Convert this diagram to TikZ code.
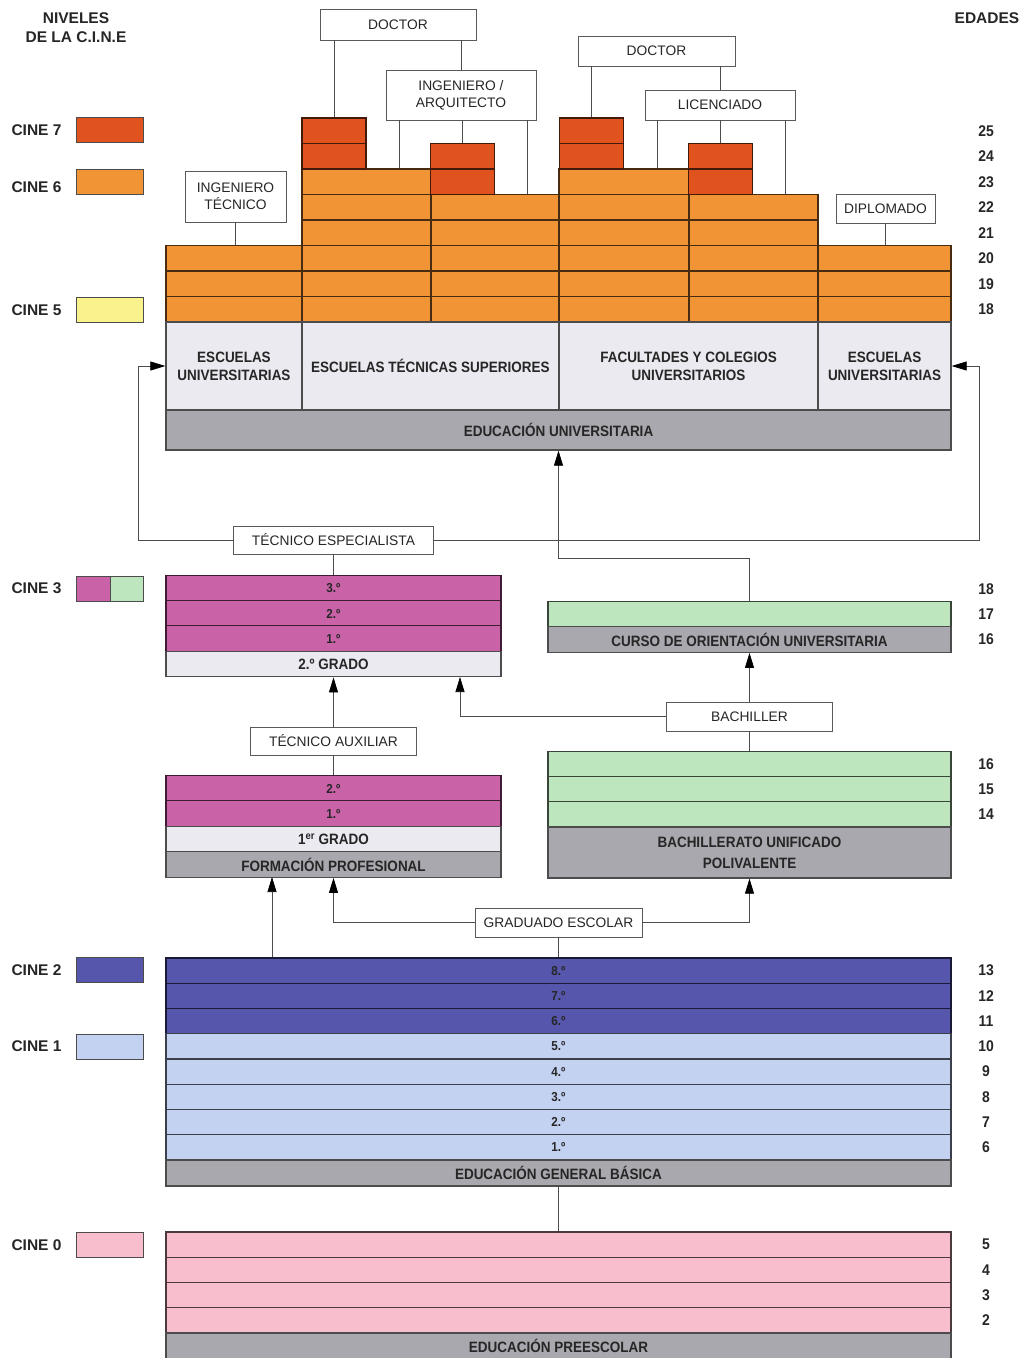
\documentclass[tikz,border=0pt]{standalone}
\usepackage{fontspec}
\setmainfont{Liberation Sans}
\newfontfamily\estrecha{Liberation Sans}[FakeStretch=0.9]
\usetikzlibrary{arrows.meta}

\definecolor{rojo}{RGB}{224,82,30}
\definecolor{naranja}{RGB}{240,148,54}
\definecolor{amarillo}{RGB}{250,242,140}
\definecolor{magenta}{RGB}{202,98,168}
\definecolor{verde}{RGB}{190,230,190}
\definecolor{azul}{RGB}{86,86,172}
\definecolor{celeste}{RGB}{196,210,242}
\definecolor{rosa}{RGB}{248,190,205}
\definecolor{gris}{RGB}{168,168,174}
\definecolor{claro}{RGB}{234,234,240}

\begin{document}
\begin{tikzpicture}[x=1pt, y=-1pt,
    caja/.style={draw=black!65, line width=0.7pt, fill=white, align=center, inner sep=0pt,
      text=black!85, font=\fontsize{13.8}{17}\selectfont},
    fila/.style={draw, line width=1.3pt, inner sep=0pt, minimum height=25.5pt, align=center,
      text=black!85, font=\estrecha\bfseries\fontsize{13}{15}\selectfont},
    banda/.style={fila, fill=gris, draw=black!70, font=\estrecha\bfseries\fontsize{15}{21}\selectfont},
    claroz/.style={fila, fill=claro, draw=black!70, font=\estrecha\bfseries\fontsize{15}{18}\selectfont},
    edad/.style={text=black!85, font=\estrecha\bfseries\fontsize{15.5}{17}\selectfont},
    cine/.style={anchor=west, text=black!85, font=\bfseries\fontsize{15.5}{19}\selectfont},
    muestra/.style={draw=black!70, line width=1pt, minimum height=25pt, inner sep=0pt},
    ln/.style={line width=0.7pt, draw=black!70},
    arr/.style={ln, -{Triangle[length=15pt,width=9pt,color=black]}}]

  \useasboundingbox (0,0) rectangle (1029,1358);

  % Legend
  \node[cine, anchor=center, align=center] (niveles) at (76,28) {NIVELES\\DE LA C.I.N.E};
  \node[cine, anchor=center] (edades) at (987,18) {EDADES};
  \node[cine] (l7) at (8,130) {CINE 7};
  \node[muestra, fill=rojo, minimum width=67pt] (m7) at (109.5,129.5) {};
  \node[cine] (l6) at (8,187) {CINE 6};
  \node[muestra, fill=naranja, minimum width=67pt] (m6) at (109.5,181.5) {};
  \node[cine] (l5) at (8,310) {CINE 5};
  \node[muestra, fill=amarillo, minimum width=67pt] (m5) at (109.5,309.5) {};
  \node[cine] (l3) at (8,588) {CINE 3};
  \node[muestra, fill=magenta, minimum width=34pt] (m3a) at (93,588.5) {};
  \node[muestra, fill=verde, minimum width=33pt] (m3b) at (126.5,588.5) {};
  \node[cine] (l2) at (8,970) {CINE 2};
  \node[muestra, fill=azul, minimum width=67pt] (m2) at (109.5,970) {};
  \node[cine] (l1) at (8,1046) {CINE 1};
  \node[muestra, fill=celeste, minimum width=67pt] (m1) at (109.5,1046.5) {};
  \node[cine] (l0) at (8,1245) {CINE 0};
  \node[muestra, fill=rosa, minimum width=67pt] (m0) at (109.5,1244.5) {};

  % Ages
  \foreach \a in {18,...,25}
    \node[edad] (eU\a) at (986,{309.25-(\a-18)*25.5}) {\a};
  \foreach \a/\y in {18/589.5, 17/614.5, 16/639.5, 16/764.5, 15/789.5, 14/814.5}
    \node[edad] (eB\y) at (986,\y) {\a};
  \foreach \a in {6,...,13}
    \node[edad] (eG\a) at (986,{970.6+(13-\a)*25.25}) {\a};
  \foreach \a in {2,...,5}
    \node[edad] (eP\a) at (986,{1244.6+(5-\a)*25.25}) {\a};

  % University: CINE 6 and CINE 7 cells
  \foreach \c/\cx/\w/\n in {1/234/136/20, 2/366.5/129/23, 3/495/128/22, 4/624/130/23, 5/753.5/129/22, 6/884.5/133/20}
    \foreach \a in {18,...,\n}
      \node[fila, fill=naranja, draw=naranja!30!black, minimum width=\w pt] (u\c-\a) at (\cx,{309.25-(\a-18)*25.5}) {};
  \foreach \c/\cx/\lo/\hi in {2/334/24/25, 3/462.5/23/24, 4/591.5/24/25, 5/720.5/23/24}
    \foreach \a in {\lo,\hi}
      \node[fila, fill=rojo, draw=rojo!30!black, minimum width=64pt] (v\c-\a) at (\cx,{309.25-(\a-18)*25.5}) {};

  % University centres
  \node[claroz, minimum width=136pt, minimum height=88pt] (eu1) at (234,366) {ESCUELAS\\UNIVERSITARIAS};
  \node[claroz, minimum width=257pt, minimum height=88pt] (ets) at (430.5,366) {ESCUELAS TÉCNICAS SUPERIORES};
  \node[claroz, minimum width=259pt, minimum height=88pt] (fac) at (688.5,366) {FACULTADES Y COLEGIOS\\UNIVERSITARIOS};
  \node[claroz, minimum width=133pt, minimum height=88pt] (eu2) at (884.5,366) {ESCUELAS\\UNIVERSITARIAS};
  \node[banda, minimum width=785pt, minimum height=40pt] (eduni) at (558.5,430) {EDUCACIÓN UNIVERSITARIA};

  % Degree boxes
  \node[caja, minimum width=156pt, minimum height=31pt] (doc1) at (398,24.5) {DOCTOR};
  \node[caja, minimum width=150pt, minimum height=50pt] (ingarq) at (461,95) {INGENIERO /\\ARQUITECTO};
  \node[caja, minimum width=157pt, minimum height=30pt] (doc2) at (656.5,51) {DOCTOR};
  \node[caja, minimum width=150pt, minimum height=30pt] (lic) at (720,105) {LICENCIADO};
  \node[caja, minimum width=101pt, minimum height=51pt] (ingtec) at (235.5,196.5) {INGENIERO\\TÉCNICO};
  \node[caja, minimum width=99pt, minimum height=29pt] (dipl) at (885.5,208.5) {DIPLOMADO};

  \draw[ln] (doc1.south -| v2-25.north) -- (v2-25.north);
  \draw[ln] (ingarq.north) -- (ingarq.north |- doc1.south);
  \draw[ln] ([xshift=-62pt]ingarq.south) -- ([xshift=-62pt]ingarq.south |- u2-23.north);
  \draw[ln] (ingarq.south -| v3-24.north) -- (v3-24.north);
  \draw[ln] ([xshift=66pt]ingarq.south) -- ([xshift=66pt]ingarq.south |- u3-22.north);
  \draw[ln] (doc2.south -| v4-25.north) -- (v4-25.north);
  \draw[ln] (lic.north) -- (lic.north |- doc2.south);
  \draw[ln] ([xshift=-63pt]lic.south) -- ([xshift=-63pt]lic.south |- u4-23.north);
  \draw[ln] (lic.south -| v5-24.north) -- (v5-24.north);
  \draw[ln] ([xshift=65pt]lic.south) -- ([xshift=65pt]lic.south |- u5-22.north);
  \draw[ln] (ingtec.south) -- (ingtec.south |- u1-20.north);
  \draw[ln] (dipl.south) -- (dipl.south |- u6-20.north);

  % Formacion profesional, 2nd grade
  \node[caja, minimum width=200pt, minimum height=28pt] (tesp) at (333.5,540) {TÉCNICO ESPECIALISTA};
  \node[fila, fill=magenta, draw=magenta!30!black, minimum width=335pt] (fp3) at (333.5,588.5) {3.º};
  \node[fila, fill=magenta, draw=magenta!30!black, minimum width=335pt] (fp2) at (333.5,613.5) {2.º};
  \node[fila, fill=magenta, draw=magenta!30!black, minimum width=335pt] (fp1) at (333.5,638.5) {1.º};
  \node[claroz, minimum width=335pt, minimum height=25.5pt] (fpg2) at (333.5,664) {2.º GRADO};

  \coordinate (lbend) at (138,366);
  \coordinate (rbend) at (979,366);
  \draw[arr] (tesp.west) -| (lbend) -- (eu1.west);
  \draw[arr] (tesp.east) -| (rbend) -- (eu2.east);
  \draw[ln] (tesp.south) -- (fp3.north);

  % COU
  \node[fila, fill=verde, draw=verde!30!black, minimum width=403pt] (cou1) at (749.5,614.5) {};
  \node[banda, minimum width=403pt] (coug) at (749.5,639.5) {CURSO DE ORIENTACIÓN UNIVERSITARIA};
  \coordinate (cbend) at (749.5,558);
  \draw[arr] (cou1.north) -- (cbend) -| (eduni.south);

  % Bachiller and tecnico auxiliar
  \node[caja, minimum width=166pt, minimum height=29pt] (bach) at (749.5,716.5) {BACHILLER};
  \node[caja, minimum width=166pt, minimum height=28pt] (taux) at (333.5,741) {TÉCNICO AUXILIAR};
  \coordinate (fpB) at (460,677);
  \draw[arr] (bach.north) -- (coug.south);
  \draw[arr] (bach.west) -| (fpB);
  \draw[arr] (taux.north) -- (fpg2.south);

  % Formacion profesional, 1st grade
  \node[fila, fill=magenta, draw=magenta!30!black, minimum width=335pt] (fq2) at (333.5,788.5) {2.º};
  \node[fila, fill=magenta, draw=magenta!30!black, minimum width=335pt] (fq1) at (333.5,813.5) {1.º};
  \node[claroz, minimum width=335pt, minimum height=25.5pt] (fqg) at (333.5,839) {1\textsuperscript{er} GRADO};
  \node[banda, minimum width=335pt] (fpro) at (333.5,864.5) {FORMACIÓN PROFESIONAL};
  \draw[ln] (taux.south) -- (fq2.north);

  % BUP
  \node[fila, fill=verde, draw=verde!30!black, minimum width=403pt] (bup16) at (749.5,764.5) {};
  \node[fila, fill=verde, draw=verde!30!black, minimum width=403pt] (bup15) at (749.5,789.5) {};
  \node[fila, fill=verde, draw=verde!30!black, minimum width=403pt] (bup14) at (749.5,814.5) {};
  \node[banda, minimum width=403pt, minimum height=51pt] (bupg) at (749.5,852.5) {BACHILLERATO UNIFICADO\\POLIVALENTE};
  \draw[ln] (bach.south) -- (bup16.north);

  % EGB
  \foreach \g/\col in {8/azul, 7/azul, 6/azul, 5/celeste, 4/celeste, 3/celeste, 2/celeste, 1/celeste}
    \node[fila, fill=\col, draw=\col!30!black, minimum width=785pt, minimum height=25.25pt] (egb\g) at (558.5,{958+(8.5-\g)*25.25}) {\g.º};
  \node[banda, minimum width=785pt, minimum height=26pt] (egbg) at (558.5,1173) {EDUCACIÓN GENERAL BÁSICA};

  \node[caja, minimum width=167pt, minimum height=29pt] (grad) at (558.5,922.5) {GRADUADO ESCOLAR};
  \coordinate (fpA) at (272,877);
  \draw[arr] (grad.west) -| (fpro.south);
  \draw[arr] (grad.east) -| (bupg.south);
  \draw[ln] (grad.south) -- (egb8.north);
  \draw[arr] (egb8.north -| fpA) -- (fpA);

  % Preescolar
  \foreach \p in {1,...,4}
    \node[fila, fill=rosa, draw=rosa!30!black, minimum width=785pt, minimum height=25.25pt] (pre\p) at (558.5,{1232+(\p-0.5)*25.25}) {};
  \node[banda, minimum width=785pt, minimum height=26pt] (preg) at (558.5,1346) {EDUCACIÓN PREESCOLAR};
  \draw[ln] (egbg.south) -- (pre1.north);

\end{tikzpicture}
\end{document}
